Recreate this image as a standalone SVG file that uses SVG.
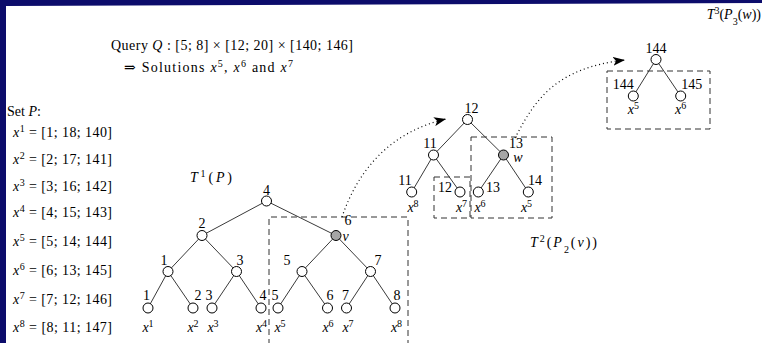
<svg xmlns="http://www.w3.org/2000/svg" width="762" height="343" viewBox="0 0 762 343">
<defs>
<style>
.t{font-family:"Liberation Serif","DejaVu Serif",serif;fill:#000;font-size:14px}
.m{font-style:italic}
.c{text-anchor:middle}
.node circle{fill:#fff;stroke:#000;stroke-width:1}
.node circle.sel{fill:#a6a6a6}
.edge{stroke:#3a3a3a;stroke-width:1}
.dash{fill:none;stroke:#333;stroke-width:1;stroke-dasharray:6 4}
.dot{fill:none;stroke:#000;stroke-width:1.2;stroke-dasharray:1 3}
</style>
<marker id="ah" markerUnits="userSpaceOnUse" markerWidth="14" markerHeight="9" refX="12" refY="4.5" orient="auto">
<path d="M0,0 L12,4.5 L0,9 L3,4.5 z" fill="#000"/>
</marker>
</defs>
<rect x="0" y="0" width="762" height="343" fill="#0c0c6b"/>
<polygon points="6,6 762,3 762,343 6,343" fill="#fff"/>

<g id="titles">
<text class="t" x="761" y="19" style="text-anchor:end"><tspan class="m">T</tspan><tspan font-size="10" baseline-shift="super">3</tspan>(<tspan class="m">P</tspan><tspan font-size="10" baseline-shift="sub">3</tspan>(<tspan class="m">w</tspan>))</text>
<text class="t" x="111" y="50" textLength="242" lengthAdjust="spacing">Query <tspan class="m">Q</tspan> : [5; 8] × [12; 20] × [140; 146]</text>
<text class="t" x="124" y="71.5" textLength="169" lengthAdjust="spacing">⇒ Solutions <tspan class="m">x</tspan><tspan font-size="10" baseline-shift="super">5</tspan>, <tspan class="m">x</tspan><tspan font-size="10" baseline-shift="super">6</tspan> and <tspan class="m">x</tspan><tspan font-size="10" baseline-shift="super">7</tspan></text>
<text class="t" x="190" y="182" textLength="42" lengthAdjust="spacing"><tspan class="m">T</tspan><tspan font-size="10" baseline-shift="super">1</tspan>(<tspan class="m">P</tspan>)</text>
<text class="t" x="530" y="247" textLength="67" lengthAdjust="spacing"><tspan class="m">T</tspan><tspan font-size="10" baseline-shift="super">2</tspan>(<tspan class="m">P</tspan><tspan font-size="10" baseline-shift="sub">2</tspan>(<tspan class="m">v</tspan>))</text>
</g>

<g id="setP">
<text class="t" x="7" y="116">Set <tspan class="m">P</tspan>:</text>
<text class="t" x="13" y="137" textLength="99" lengthAdjust="spacing"><tspan class="m">x</tspan><tspan font-size="10" baseline-shift="super">1</tspan> = [1; 18; 140]</text>
<text class="t" x="13" y="164" textLength="99" lengthAdjust="spacing"><tspan class="m">x</tspan><tspan font-size="10" baseline-shift="super">2</tspan> = [2; 17; 141]</text>
<text class="t" x="13" y="191" textLength="99" lengthAdjust="spacing"><tspan class="m">x</tspan><tspan font-size="10" baseline-shift="super">3</tspan> = [3; 16; 142]</text>
<text class="t" x="13" y="217" textLength="99" lengthAdjust="spacing"><tspan class="m">x</tspan><tspan font-size="10" baseline-shift="super">4</tspan> = [4; 15; 143]</text>
<text class="t" x="13" y="246" textLength="99" lengthAdjust="spacing"><tspan class="m">x</tspan><tspan font-size="10" baseline-shift="super">5</tspan> = [5; 14; 144]</text>
<text class="t" x="13" y="275" textLength="99" lengthAdjust="spacing"><tspan class="m">x</tspan><tspan font-size="10" baseline-shift="super">6</tspan> = [6; 13; 145]</text>
<text class="t" x="13" y="304" textLength="99" lengthAdjust="spacing"><tspan class="m">x</tspan><tspan font-size="10" baseline-shift="super">7</tspan> = [7; 12; 146]</text>
<text class="t" x="13" y="332" textLength="99" lengthAdjust="spacing"><tspan class="m">x</tspan><tspan font-size="10" baseline-shift="super">8</tspan> = [8; 11; 147]</text>
</g>

<g id="connectors">
<line class="edge" x1="266.5" y1="201" x2="202" y2="235.5"/>
<line class="edge" x1="266.5" y1="201" x2="336" y2="235.5"/>
<line class="edge" x1="202" y1="235.5" x2="168" y2="271.5"/>
<line class="edge" x1="202" y1="235.5" x2="236.5" y2="271.5"/>
<line class="edge" x1="336" y1="235.5" x2="302" y2="271.5"/>
<line class="edge" x1="336" y1="235.5" x2="370.5" y2="271.5"/>
<line class="edge" x1="168" y1="271.5" x2="148" y2="308"/>
<line class="edge" x1="168" y1="271.5" x2="193" y2="308"/>
<line class="edge" x1="236.5" y1="271.5" x2="212" y2="308"/>
<line class="edge" x1="236.5" y1="271.5" x2="261" y2="308"/>
<line class="edge" x1="302" y1="271.5" x2="278" y2="308"/>
<line class="edge" x1="302" y1="271.5" x2="327.5" y2="308"/>
<line class="edge" x1="370.5" y1="271.5" x2="346.5" y2="308"/>
<line class="edge" x1="370.5" y1="271.5" x2="395" y2="308"/>
<line class="edge" x1="467.5" y1="119.5" x2="433.5" y2="155"/>
<line class="edge" x1="467.5" y1="119.5" x2="503.5" y2="155"/>
<line class="edge" x1="433.5" y1="155" x2="411.7" y2="192"/>
<line class="edge" x1="433.5" y1="155" x2="460" y2="192"/>
<line class="edge" x1="503.5" y1="155" x2="478.3" y2="192"/>
<line class="edge" x1="503.5" y1="155" x2="528.3" y2="192"/>
<line class="edge" x1="656" y1="59.5" x2="633.3" y2="96"/>
<line class="edge" x1="656" y1="59.5" x2="680.7" y2="96"/>
<path class="dash" d="M269,345 V217 H408 V345"/>
<rect class="dash" x="471" y="137" width="81" height="81"/>
<rect class="dash" x="434" y="177" width="36" height="41"/>
<rect class="dash" x="607" y="71" width="103" height="58"/>
<path class="dot" d="M342,217 C358,170 390,132 446,119" marker-end="url(#ah)"/>
<path class="dot" d="M515,138 C535,100 555,68 625,60" marker-end="url(#ah)"/>
</g>

<g id="t1-n4" class="node"><circle cx="266.5" cy="201" r="5"/><text class="t c" x="266.5" y="195">4</text></g>
<g id="t1-n2" class="node"><circle cx="202" cy="235.5" r="5"/><text class="t c" x="202" y="228">2</text></g>
<g id="t1-n6" class="node"><circle class="sel" cx="336" cy="235.5" r="5"/><text class="t c" x="348" y="225">6</text><text class="t c m" x="345.5" y="241">v</text></g>
<g id="t1-n1" class="node"><circle cx="168" cy="271.5" r="5"/><text class="t c" x="164" y="265">1</text></g>
<g id="t1-n3" class="node"><circle cx="236.5" cy="271.5" r="5"/><text class="t c" x="240" y="265">3</text></g>
<g id="t1-n5" class="node"><circle cx="302" cy="271.5" r="5"/><text class="t c" x="287" y="265">5</text></g>
<g id="t1-n7" class="node"><circle cx="370.5" cy="271.5" r="5"/><text class="t c" x="378" y="265">7</text></g>

<g id="t1-l1" class="node"><circle cx="148" cy="308" r="5"/><text class="t c" x="146.5" y="300">1</text><text class="t c" x="148" y="332"><tspan class="m">x</tspan><tspan font-size="10" baseline-shift="super">1</tspan></text></g>
<g id="t1-l2" class="node"><circle cx="193" cy="308" r="5"/><text class="t c" x="198" y="300">2</text><text class="t c" x="193" y="332"><tspan class="m">x</tspan><tspan font-size="10" baseline-shift="super">2</tspan></text></g>
<g id="t1-l3" class="node"><circle cx="212" cy="308" r="5"/><text class="t c" x="209" y="300">3</text><text class="t c" x="213" y="332"><tspan class="m">x</tspan><tspan font-size="10" baseline-shift="super">3</tspan></text></g>
<g id="t1-l4" class="node"><circle cx="261" cy="308" r="5"/><text class="t c" x="263" y="300">4</text><text class="t c" x="261.5" y="332"><tspan class="m">x</tspan><tspan font-size="10" baseline-shift="super">4</tspan></text></g>
<g id="t1-l5" class="node"><circle cx="278" cy="308" r="5"/><text class="t c" x="275" y="300">5</text><text class="t c" x="280" y="332"><tspan class="m">x</tspan><tspan font-size="10" baseline-shift="super">5</tspan></text></g>
<g id="t1-l6" class="node"><circle cx="327.5" cy="308" r="5"/><text class="t c" x="330" y="300">6</text><text class="t c" x="328" y="332"><tspan class="m">x</tspan><tspan font-size="10" baseline-shift="super">6</tspan></text></g>
<g id="t1-l7" class="node"><circle cx="346.5" cy="308" r="5"/><text class="t c" x="345.5" y="300">7</text><text class="t c" x="348" y="332"><tspan class="m">x</tspan><tspan font-size="10" baseline-shift="super">7</tspan></text></g>
<g id="t1-l8" class="node"><circle cx="395" cy="308" r="5"/><text class="t c" x="397" y="300">8</text><text class="t c" x="396.5" y="332"><tspan class="m">x</tspan><tspan font-size="10" baseline-shift="super">8</tspan></text></g>

<g id="t2-n12" class="node"><circle cx="467.5" cy="119.5" r="5"/><text class="t c" x="471.5" y="113">12</text></g>
<g id="t2-n11" class="node"><circle cx="433.5" cy="155" r="5"/><text class="t c" x="430" y="148">11</text></g>
<g id="t2-n13" class="node"><circle class="sel" cx="503.5" cy="155" r="5"/><text class="t c" x="516" y="148">13</text><text class="t c m" x="518" y="162">w</text></g>
<g id="t2-l11" class="node"><circle cx="411.7" cy="192" r="5"/><text class="t c" x="405" y="185">11</text><text class="t c" x="413" y="211.5"><tspan class="m">x</tspan><tspan font-size="10" baseline-shift="super">8</tspan></text></g>
<g id="t2-l12" class="node"><circle cx="460" cy="192" r="5"/><text class="t c" x="445" y="192">12</text><text class="t c" x="461.5" y="211.5"><tspan class="m">x</tspan><tspan font-size="10" baseline-shift="super">7</tspan></text></g>
<g id="t2-l13" class="node"><circle cx="478.3" cy="192" r="5"/><text class="t c" x="493" y="192">13</text><text class="t c" x="480" y="211.5"><tspan class="m">x</tspan><tspan font-size="10" baseline-shift="super">6</tspan></text></g>
<g id="t2-l14" class="node"><circle cx="528.3" cy="192" r="5"/><text class="t c" x="535" y="185">14</text><text class="t c" x="526.5" y="211.5"><tspan class="m">x</tspan><tspan font-size="10" baseline-shift="super">5</tspan></text></g>

<g id="t3-n144" class="node"><circle cx="656" cy="59.5" r="5"/><text class="t c" x="656" y="53">144</text></g>
<g id="t3-l144" class="node"><circle cx="633.3" cy="96" r="5"/><text class="t c" x="623.3" y="88.5">144</text><text class="t c" x="633.3" y="114"><tspan class="m">x</tspan><tspan font-size="10" baseline-shift="super">5</tspan></text></g>
<g id="t3-l145" class="node"><circle cx="680.7" cy="96" r="5"/><text class="t c" x="691.7" y="88.5">145</text><text class="t c" x="680.7" y="114"><tspan class="m">x</tspan><tspan font-size="10" baseline-shift="super">6</tspan></text></g>
</svg>
